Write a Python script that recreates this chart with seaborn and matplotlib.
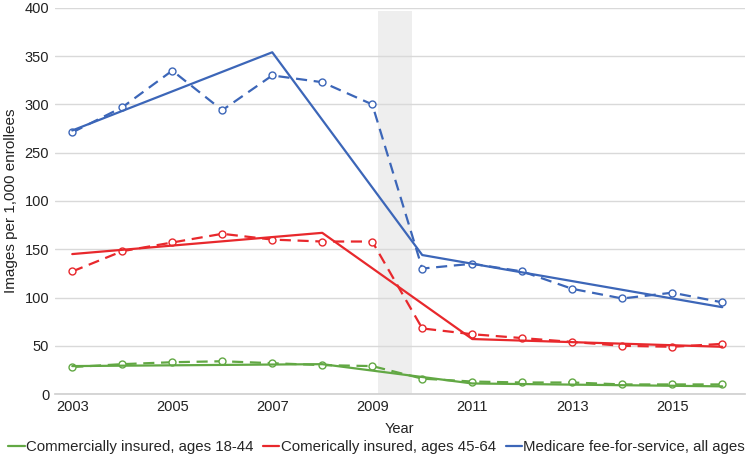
import matplotlib
matplotlib.use("Agg")
import matplotlib.pyplot as plt
import seaborn as sns
import pandas as pd

sns.set_theme(style="white")
plt.rcParams['font.family'] = ['Liberation Sans', 'DejaVu Sans']

years = list(range(2003, 2017))
green_obs = [28, 31, 33, 34, 32, 30, 29, 16, 13, 12, 12, 10, 10, 10]
red_obs = [127, 148, 157, 166, 160, 158, 158, 68, 62, 58, 54, 50, 49, 52]
blue_obs = [271, 297, 335, 294, 330, 323, 300, 130, 135, 127, 109, 99, 105, 95]

green_fit_years = [2003, 2008, 2011, 2016]
green_fit = [29, 31, 11, 8]
red_fit_years = [2003, 2008, 2011, 2016]
red_fit = [145, 167, 57, 49]
blue_fit_years = [2003, 2007, 2010, 2016]
blue_fit = [273, 354, 144, 90]

series_names = ["Commercially insured, ages 18-44",
                "Comerically insured, ages 45-64",
                "Medicare fee-for-service, all ages"]
colors = ["#62A844", "#E8282C", "#3C66B8"]
ytick_vals = [0, 50, 100, 150, 200, 250, 300, 350, 400]
ytick_labels = ["0", "50", "100", "150", "100", "250", "300", "350", "400"]
xtick_vals = [2003, 2005, 2007, 2009, 2011, 2013, 2015]
band = (2009.12, 2009.8)

fig = plt.figure(figsize=(7.5, 4.62), dpi=100)
ax = fig.add_axes([0.073, 0.147, 0.92, 0.836])

ax.axvspan(band[0], band[1], ymin=0, ymax=0.992, color="#EEEEEE", zorder=0, lw=0)

obs = [green_obs, red_obs, blue_obs]
fits = [(green_fit_years, green_fit), (red_fit_years, red_fit), (blue_fit_years, blue_fit)]
for name, c, o, (fy, fv) in zip(series_names, colors, obs, fits):
    df_o = pd.DataFrame({"year": years, "value": o})
    sns.lineplot(data=df_o, x="year", y="value", ax=ax, color=c, lw=1.6,
                 linestyle=(0, (5, 3)), marker="o", markersize=5,
                 markerfacecolor="white", markeredgecolor=c, markeredgewidth=1.0,
                 zorder=3)
    df_f = pd.DataFrame({"year": fy, "value": fv})
    sns.lineplot(data=df_f, x="year", y="value", ax=ax, color=c, lw=1.6,
                 label=name, zorder=4)

ax.set_xlim(2002.65, 2016.45)
ax.set_ylim(0, 400)
ax.set_yticks(ytick_vals)
ax.set_yticklabels(ytick_labels)
ax.set_xticks(xtick_vals)
ax.set_xticklabels([str(v) for v in xtick_vals])
ax.tick_params(axis="both", labelsize=10.5, colors="#222222", length=0, pad=4)
ax.yaxis.grid(True, color="#D9D9D9", lw=1)
ax.xaxis.grid(False)
for s in ["top", "right", "left"]:
    ax.spines[s].set_visible(False)
ax.spines["bottom"].set_color("#D0D0D0")
ax.set_xlabel("Year", fontsize=10.5, color="#222222", labelpad=6)
ax.set_ylabel("Images per 1,000 enrollees", fontsize=11, color="#222222", labelpad=5)

handles, labels = ax.get_legend_handles_labels()
ax.get_legend().remove()
fig.legend(handles, labels, loc="center", bbox_to_anchor=(0.502, 0.032), ncol=3,
           frameon=False, fontsize=10.8, handlelength=1.1, handletextpad=0.08,
           columnspacing=0.65, borderaxespad=0, borderpad=0)

fig.savefig("out.png", dpi=100)
